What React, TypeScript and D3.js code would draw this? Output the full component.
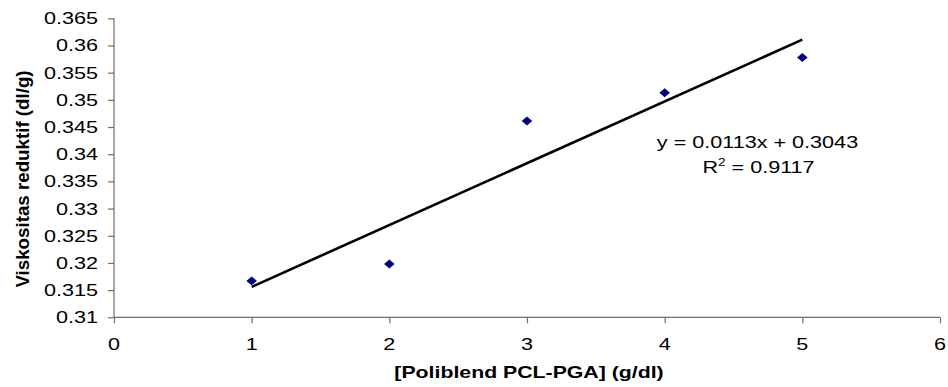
import { useEffect, useRef } from 'react';
import * as d3 from 'd3';

const concentrations = [1, 2, 3, 4, 5];
const viscosities = [0.3167, 0.3198, 0.3461, 0.3513, 0.3578];
const xTicks = [0, 1, 2, 3, 4, 5, 6];
const yTicks = [0.31, 0.315, 0.32, 0.325, 0.33, 0.335, 0.34, 0.345, 0.35, 0.355, 0.36, 0.365];
const xTitle = '[Poliblend PCL-PGA] (g/dl)';
const yTitle = 'Viskositas reduktif (dl/g)';

const FONT = '"Liberation Sans", Arial, sans-serif';
const STRETCH = 1.35; // the reference text is squeezed wider than normal

export default function App() {
  const svgRef = useRef<SVGSVGElement>(null);

  useEffect(() => {
    document.body.style.margin = '0';
    if (!svgRef.current) return;
    const width = 948;
    const height = 387;

    const svg = d3.select(svgRef.current);
    svg.selectAll('*').remove();
    svg.attr('width', width).attr('height', height);

    const x = d3.scaleLinear().domain([0, 6]).range([114, 940]);
    const y = d3.scaleLinear().domain([0.31, 0.365]).range([317.3, 18.3]);

    const axisColor = '#6e6e6e';

    // x axis
    const gx = svg.append('g').attr('transform', `translate(0,${y(0.31)})`);
    gx.call(d3.axisBottom(x).tickValues(xTicks).tickSize(6).tickFormat(() => ''));
    gx.selectAll('path, line').attr('stroke', axisColor).attr('stroke-width', 1.2);
    gx.select('.domain').attr('d', `M${x(0)},0H${x(6)}`);

    // y axis
    const gy = svg.append('g').attr('transform', `translate(${x(0)},0)`);
    gy.call(d3.axisLeft(y).tickValues(yTicks).tickSize(6).tickFormat(() => ''));
    gy.selectAll('path, line').attr('stroke', axisColor).attr('stroke-width', 1.2);
    gy.select('.domain').attr('d', `M0,${y(0.31)}V${y(0.365)}`);

    // tick labels (stretched horizontally like the source)
    xTicks.forEach((t) => {
      svg
        .append('text')
        .attr('transform', `translate(${x(t)},${y(0.31) + 33}) scale(${STRETCH},1)`)
        .attr('text-anchor', 'middle')
        .attr('font-family', FONT)
        .attr('font-size', 16)
        .attr('fill', '#000')
        .text(String(t));
    });
    yTicks.forEach((t) => {
      svg
        .append('text')
        .attr('transform', `translate(98,${y(t) + 6}) scale(${STRETCH},1)`)
        .attr('text-anchor', 'end')
        .attr('font-family', FONT)
        .attr('font-size', 16)
        .attr('fill', '#000')
        .text(String(+t.toFixed(3)));
    });

    // trend line from least squares
    const mx = d3.mean(concentrations) ?? 0;
    const my = d3.mean(viscosities) ?? 0;
    const sxy = d3.sum(concentrations, (c, i) => (c - mx) * (viscosities[i] - my));
    const sxx = d3.sum(concentrations, (c) => (c - mx) ** 2);
    const slope = sxy / sxx;
    const intercept = my - slope * mx;
    const x0 = d3.min(concentrations) ?? 0;
    const x1 = d3.max(concentrations) ?? 0;
    svg
      .append('path')
      .attr(
        'd',
        d3.line()([
          [x(x0), y(slope * x0 + intercept)],
          [x(x1), y(slope * x1 + intercept)],
        ]) ?? ''
      )
      .attr('stroke', '#000')
      .attr('stroke-width', 2.6)
      .attr('fill', 'none');

    // data points (diamonds)
    const diamond = d3.symbol(d3.symbolSquare).size(56);
    svg
      .append('g')
      .selectAll('path')
      .data(concentrations)
      .join('path')
      .attr('d', diamond() ?? '')
      .attr('transform', (c, i) => `translate(${x(c)},${y(viscosities[i])}) scale(1,0.85) rotate(45)`)
      .attr('fill', '#000080');

    // equation
    svg
      .append('text')
      .attr('transform', `translate(757.5,148) scale(${STRETCH},1)`)
      .attr('text-anchor', 'middle')
      .attr('font-family', FONT)
      .attr('font-size', 16)
      .attr('fill', '#000')
      .text('y = 0.0113x + 0.3043');

    const r2 = svg
      .append('text')
      .attr('transform', `translate(758.5,173) scale(${STRETCH},1)`)
      .attr('text-anchor', 'middle')
      .attr('font-family', FONT)
      .attr('font-size', 16)
      .attr('fill', '#000');
    r2.append('tspan').text('R');
    r2.append('tspan').attr('font-size', 10).attr('dy', -7).text('2');
    r2.append('tspan').attr('dy', 7).text(' = 0.9117');

    // axis titles
    svg
      .append('text')
      .attr('transform', `translate(529,378) scale(1.33,1)`)
      .attr('text-anchor', 'middle')
      .attr('font-family', FONT)
      .attr('font-weight', 'bold')
      .attr('font-size', 16)
      .attr('fill', '#000')
      .text(xTitle);

    svg
      .append('text')
      .attr('transform', `translate(29,179) rotate(-90) scale(1.25,1.2)`)
      .attr('text-anchor', 'middle')
      .attr('font-family', FONT)
      .attr('font-weight', 'bold')
      .attr('font-size', 15)
      .attr('fill', '#000')
      .text(yTitle);
  }, []);

  return (
    <div style={{ width: 948, height: 387, background: '#fff' }}>
      <svg ref={svgRef} style={{ display: 'block' }} />
    </div>
  );
}
